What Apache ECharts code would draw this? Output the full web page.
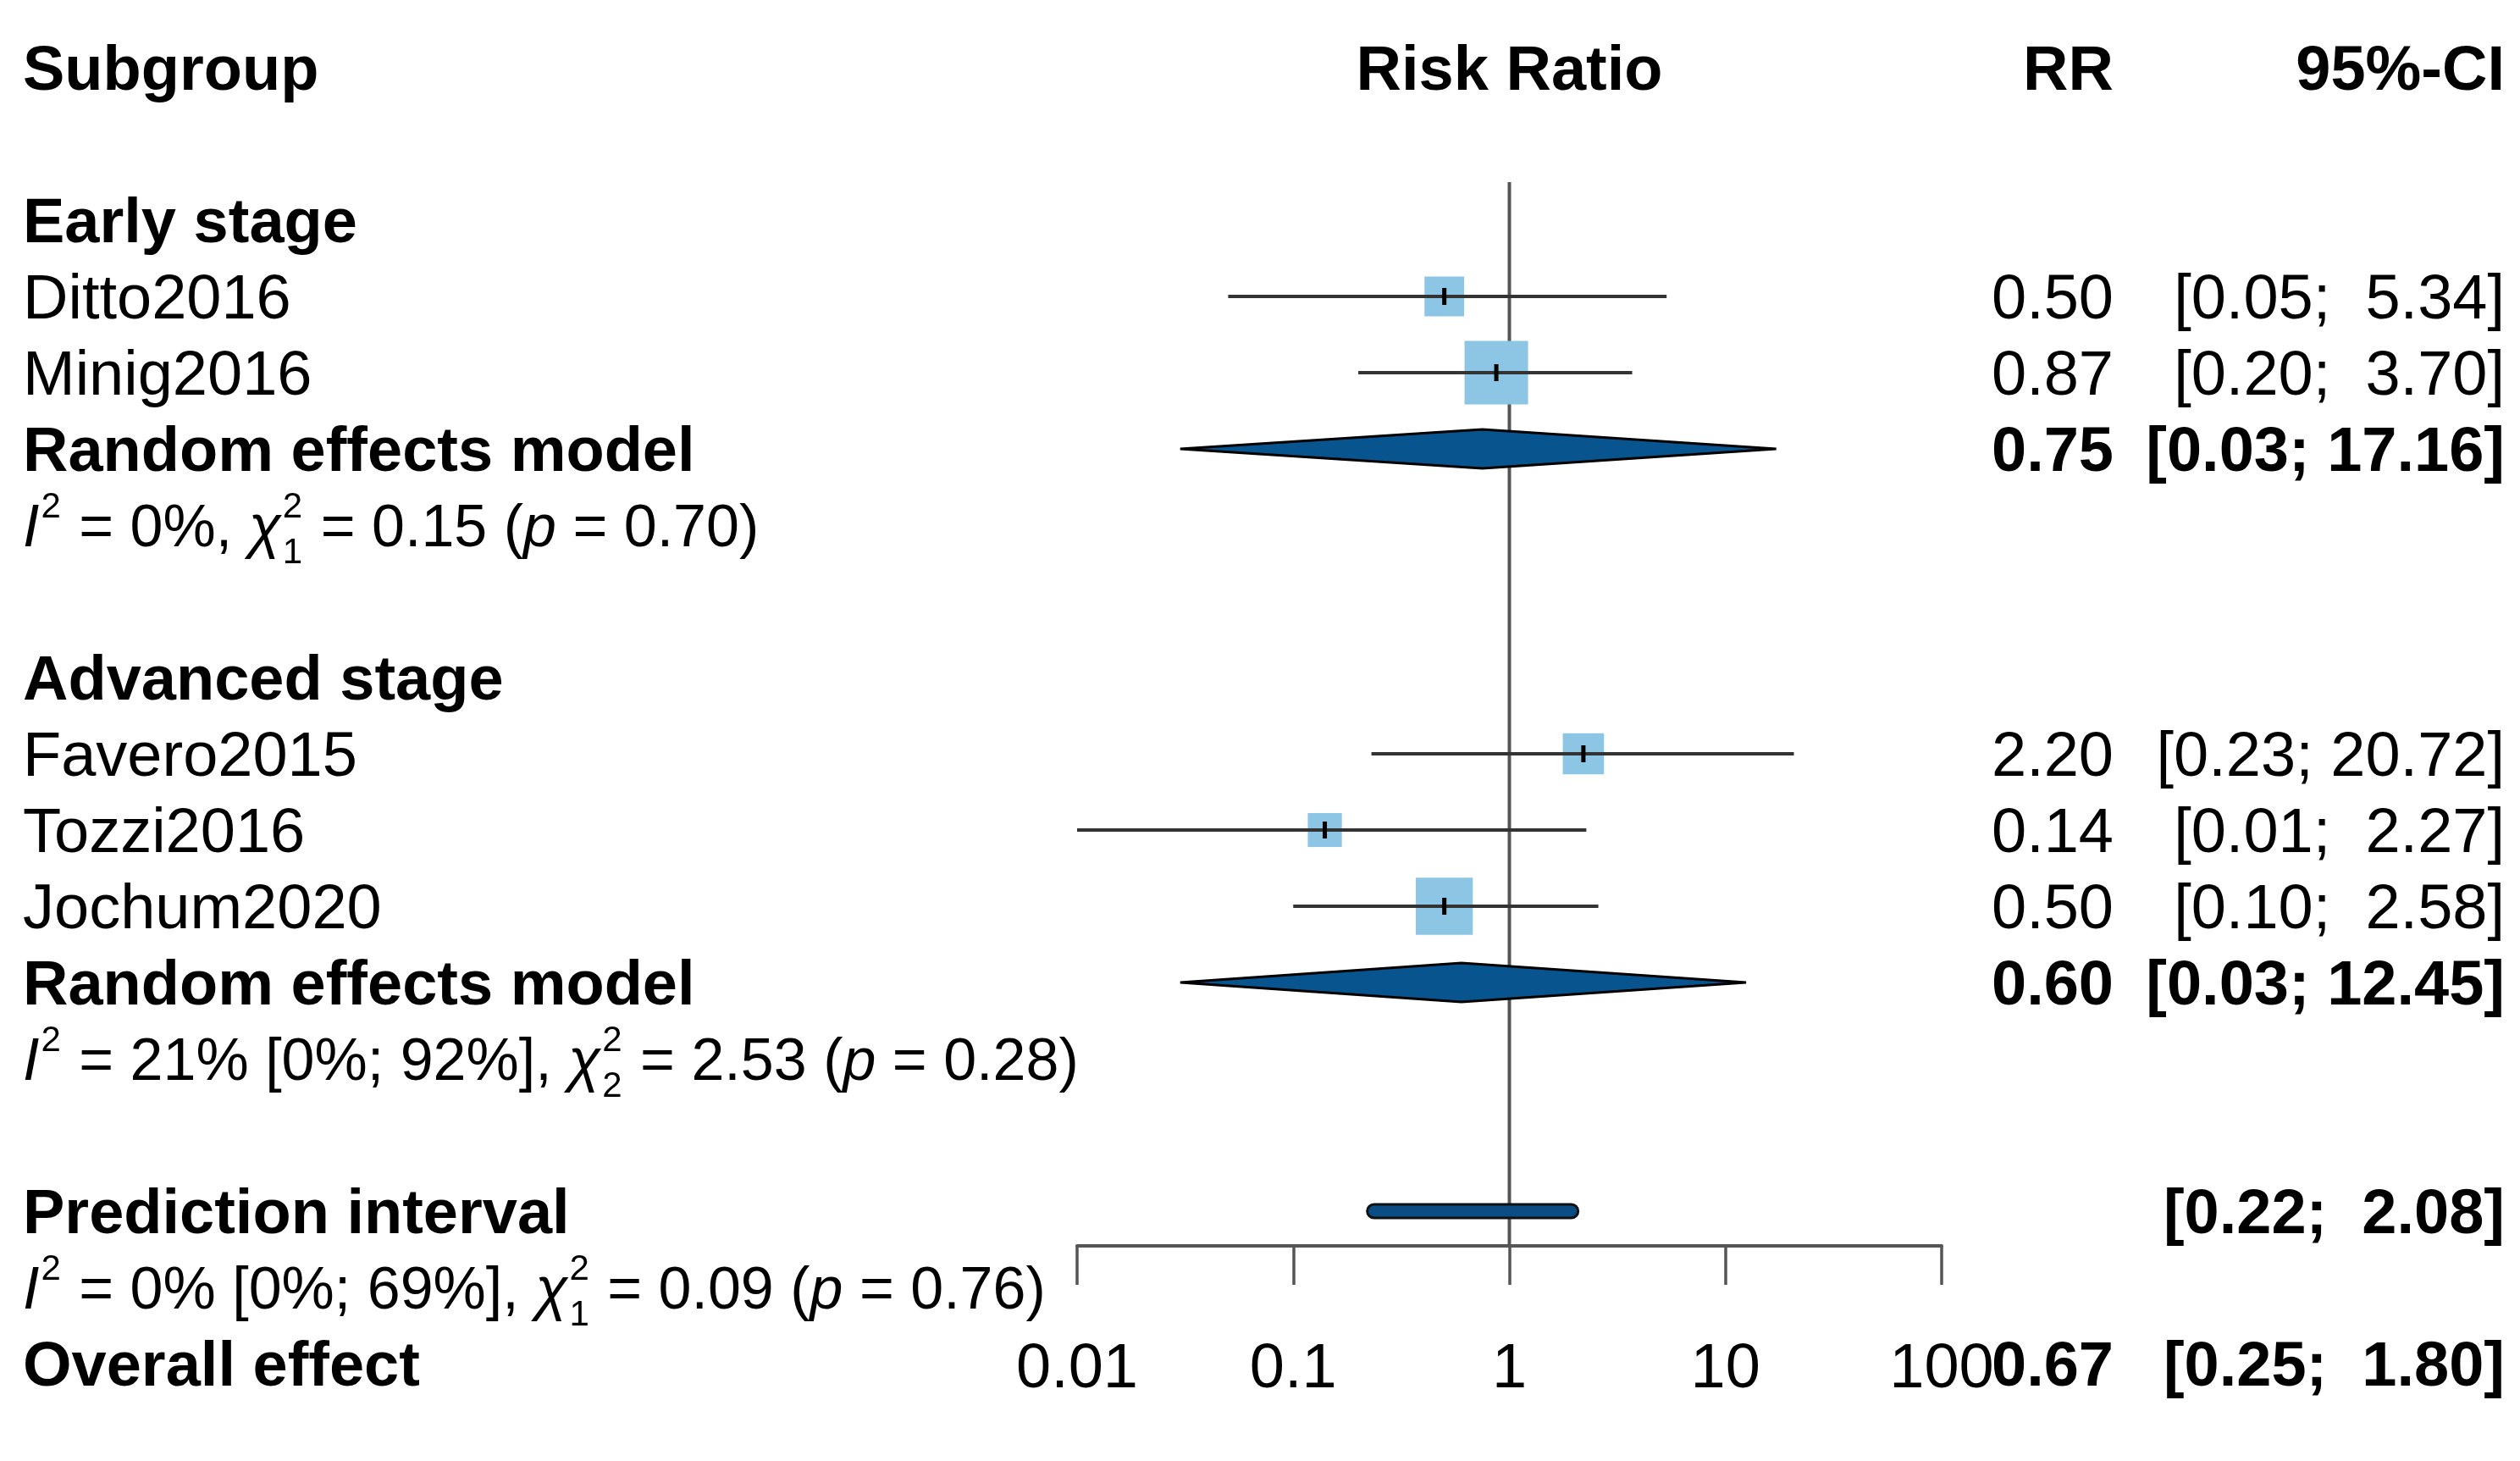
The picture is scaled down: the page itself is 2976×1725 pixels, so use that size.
<!DOCTYPE html>
<html><head><meta charset="utf-8">
<script src="https://cdn.jsdelivr.net/npm/echarts@6/dist/echarts.min.js"></script>
<style>html,body{margin:0;padding:0;background:#fff}#c{width:2976px;height:1725px}</style>
</head><body><div id="c"></div>
<script>
// ---------------- data ----------------
const headers = ['Subgroup', 'Risk Ratio', 'RR', '95%-CI'];
const subgroupNames = ['Early stage', 'Advanced stage'];
const subgroupRows = [2, 8];
const studyNames = ['Ditto2016', 'Minig2016', 'Favero2015', 'Tozzi2016', 'Jochum2020'];
const studyRows = [3, 4, 9, 10, 11];
const studyRR = [0.50, 0.87, 2.20, 0.14, 0.50];
const studyLower = [0.05, 0.20, 0.23, 0.01, 0.10];
const studyUpper = [5.34, 3.70, 20.72, 2.27, 2.58];
const studyWeight = [13.4, 34.4, 14.5, 9.9, 27.7];
const pooledLabel = 'Random effects model';
const pooledRows = [5, 12];
const pooledRR = [0.75, 0.60];
const pooledLower = [0.03, 0.03];
const pooledUpper = [17.16, 12.45];
const hetRows = [6, 13, 16];
const hetI2 = [0, 21, 0];
const hetI2Lower = [null, 0, 0];
const hetI2Upper = [null, 92, 69];
const hetQ = [0.15, 2.53, 0.09];
const hetDf = [1, 2, 1];
const hetP = [0.70, 0.28, 0.76];
const predLabel = 'Prediction interval';
const predRow = 15;
const predLower = [0.22];
const predUpper = [2.08];
const overallLabel = 'Overall effect';
const overallRow = 17;
const overallRR = [0.67];
const overallLower = [0.25];
const overallUpper = [1.80];
const xTicks = [0.01, 0.1, 1, 10, 100];
const refValue = 1;
const rowCount = 17;

// ---------------- style / layout ----------------
const FAMILY = '"Liberation Sans", Arial, Helvetica, sans-serif';
const FS = 74, HET_FS = 70, SMALL = 42;
const TEXT_DY = 6;
const LEFT_X = 27, RR_X = 2496, CI_X = 2958;
const GRID = { left: 1272, right: 683, top: 80, bottom: 115 };
const AXIS_OFFSET = -139;
const BOX_MAX = 75;
const BOX_COLOR = '#8DC5E4';
const CI_COLOR = '#333333';
const DIAMOND_COLOR = '#08548F';
const PRED_COLOR = '#0A4D84';
const REF_COLOR = '#555555';
const TEXT_COLOR = '#000000';
const DIAMOND_HALF = 23;

const fmt2 = v => v.toFixed(2);
const pad = (s, n) => (' '.repeat(Math.max(0, n - s.length)) + s);
const ciStr = (l, u) => '[' + fmt2(l) + '; ' + pad(fmt2(u), 5) + ']';

// ---------------- text rows ----------------
const textItems = [];
textItems.push({ row: 0, col: 'left', text: headers[0], bold: true });
textItems.push({ row: 0, col: 'ref', text: headers[1], bold: true });
textItems.push({ row: 0, col: 'rr', text: headers[2], bold: true });
textItems.push({ row: 0, col: 'ci', text: headers[3], bold: true });
subgroupNames.forEach((n, i) => textItems.push({ row: subgroupRows[i], col: 'left', text: n, bold: true }));
studyNames.forEach((n, i) => {
  textItems.push({ row: studyRows[i], col: 'left', text: n, bold: false });
  textItems.push({ row: studyRows[i], col: 'rr', text: fmt2(studyRR[i]), bold: false });
  textItems.push({ row: studyRows[i], col: 'ci', text: ciStr(studyLower[i], studyUpper[i]), bold: false });
});
pooledRows.forEach((r, i) => {
  textItems.push({ row: r, col: 'left', text: pooledLabel, bold: true });
  textItems.push({ row: r, col: 'rr', text: fmt2(pooledRR[i]), bold: true });
  textItems.push({ row: r, col: 'ci', text: ciStr(pooledLower[i], pooledUpper[i]), bold: true });
});
hetRows.forEach((r, i) => textItems.push({ row: r, col: 'left', het: i }));
textItems.push({ row: predRow, col: 'left', text: predLabel, bold: true });
textItems.push({ row: predRow, col: 'ci', text: ciStr(predLower[0], predUpper[0]), bold: true });
textItems.push({ row: overallRow, col: 'left', text: overallLabel, bold: true });
textItems.push({ row: overallRow, col: 'rr', text: fmt2(overallRR[0]), bold: true });
textItems.push({ row: overallRow, col: 'ci', text: ciStr(overallLower[0], overallUpper[0]), bold: true });

const measureCtx = document.createElement('canvas').getContext('2d');
function measure(text, size, italic, bold) {
  measureCtx.font = (italic ? 'italic ' : '') + (bold ? 'bold ' : '') + size + 'px ' + FAMILY;
  return measureCtx.measureText(text).width;
}
function hetTokens(i) {
  const t = [];
  t.push({ s: 'I', it: true });
  t.push({ sup: '2' });
  let str = ' = ' + hetI2[i] + '%';
  if (hetI2Lower[i] != null) str += ' [' + hetI2Lower[i] + '%; ' + hetI2Upper[i] + '%]';
  str += ', ';
  t.push({ s: str });
  t.push({ s: 'χ', it: true });
  t.push({ sup: '2', sub: String(hetDf[i]) });
  t.push({ s: ' = ' + hetQ[i].toFixed(2) + ' (' });
  t.push({ s: 'p', it: true });
  t.push({ s: ' = ' + hetP[i].toFixed(2) + ')' });
  return t;
}
function txt(x, y, text, size, italic, bold, align) {
  return { type: 'text', x: x, y: y, silent: true, style: {
    text: text, fontSize: size, fontFamily: FAMILY, fontStyle: italic ? 'italic' : 'normal',
    fontWeight: bold ? 'bold' : 'normal', fill: TEXT_COLOR, align: align || 'left', verticalAlign: 'middle' } };
}
function renderText(params, api) {
  const item = textItems[api.value(2)];
  const y = api.coord([refValue, item.row])[1] + TEXT_DY;
  if (item.het != null) {
    const children = [];
    let x = LEFT_X;
    hetTokens(item.het).forEach(tk => {
      if (tk.s != null) {
        children.push(txt(x, y, tk.s, HET_FS, tk.it, false));
        x += measure(tk.s, HET_FS, tk.it, false);
      } else {
        let w = 0;
        if (tk.sup) { children.push(txt(x + 2, y - 27, tk.sup, SMALL, false, false)); w = Math.max(w, measure(tk.sup, SMALL)); }
        if (tk.sub) { children.push(txt(x + 2, y + 27, tk.sub, SMALL, false, false)); w = Math.max(w, measure(tk.sub, SMALL)); }
        x += w + 4;
      }
    });
    return { type: 'group', children: children };
  }
  let x, align;
  if (item.col === 'left') { x = LEFT_X; align = 'left'; }
  else if (item.col === 'ref') { x = api.coord([refValue, item.row])[0]; align = 'center'; }
  else if (item.col === 'rr') { x = RR_X; align = 'right'; }
  else { x = CI_X; align = 'right'; }
  return txt(x, y, item.text, FS, false, item.bold, align);
}

function renderStudy(params, api) {
  const row = api.value(2);
  const lo = api.coord([api.value(0), row]);
  const hi = api.coord([api.value(1), row]);
  const c = api.coord([api.value(3), row]);
  const maxW = Math.max.apply(null, studyWeight);
  const s = BOX_MAX * Math.sqrt(api.value(4) / maxW);
  return { type: 'group', children: [
    { type: 'rect', shape: { x: c[0] - s / 2, y: c[1] - s / 2, width: s, height: s }, style: { fill: BOX_COLOR } },
    { type: 'line', shape: { x1: lo[0], y1: lo[1], x2: hi[0], y2: hi[1] }, style: { stroke: CI_COLOR, lineWidth: 4 } },
    { type: 'line', shape: { x1: c[0], y1: c[1] - 10, x2: c[0], y2: c[1] + 10 }, style: { stroke: '#000', lineWidth: 5 } }
  ] };
}
function renderDiamond(params, api) {
  const row = api.value(2);
  const lo = api.coord([api.value(0), row]);
  const hi = api.coord([api.value(1), row]);
  const c = api.coord([api.value(3), row]);
  return { type: 'polygon', shape: { points: [[lo[0], lo[1]], [c[0], c[1] - DIAMOND_HALF], [hi[0], hi[1]], [c[0], c[1] + DIAMOND_HALF]] },
    style: { fill: DIAMOND_COLOR, stroke: '#000', lineWidth: 3, lineJoin: 'miter' } };
}
function renderPred(params, api) {
  const row = api.value(2);
  const lo = api.coord([api.value(0), row]);
  const hi = api.coord([api.value(1), row]);
  const h = 16;
  return { type: 'rect', shape: { x: lo[0], y: lo[1] - h / 2, width: hi[0] - lo[0], height: h, r: h / 2 },
    style: { fill: PRED_COLOR, stroke: '#111', lineWidth: 3 } };
}
function renderRef(params, api) {
  const top = api.coord([refValue, 1.5]);
  const axisY = api.getHeight() - GRID.bottom + AXIS_OFFSET;
  return { type: 'line', shape: { x1: top[0], y1: top[1], x2: top[0], y2: axisY }, style: { stroke: REF_COLOR, lineWidth: 4 } };
}

const chart = echarts.init(document.getElementById('c'), null, { renderer: 'canvas' });
chart.setOption({
  animation: false,
  backgroundColor: '#ffffff',
  textStyle: { fontFamily: FAMILY },
  grid: { left: GRID.left, right: GRID.right, top: GRID.top, bottom: GRID.bottom, containLabel: false },
  xAxis: {
    type: 'log', logBase: 10, min: xTicks[0], max: xTicks[xTicks.length - 1],
    position: 'bottom', offset: AXIS_OFFSET,
    axisLine: { show: true, onZero: false, lineStyle: { color: REF_COLOR, width: 4 } },
    axisTick: { show: true, inside: false, length: 46, lineStyle: { color: REF_COLOR, width: 3.5 } },
    splitLine: { show: false },
    axisLabel: {
      show: true, margin: 110, fontSize: FS, color: TEXT_COLOR, fontFamily: FAMILY,
      showMinLabel: true, showMaxLabel: true, hideOverlap: false,
      formatter: v => {
        for (const t of xTicks) if (Math.abs(Math.log10(v) - Math.log10(t)) < 1e-6) return String(t);
        return '';
      }
    }
  },
  yAxis: { type: 'value', min: 0, max: rowCount, inverse: true, show: false },
  series: [
    { type: 'custom', renderItem: renderRef, data: [[refValue, 1.5]], encode: { x: 0, y: 1 }, silent: true, z: 1 },
    { type: 'custom', renderItem: renderStudy, silent: true, z: 2,
      data: studyRR.map((v, i) => [studyLower[i], studyUpper[i], studyRows[i], v, studyWeight[i]]),
      encode: { x: [0, 1, 3], y: 2 } },
    { type: 'custom', renderItem: renderDiamond, silent: true, z: 2,
      data: pooledRR.map((v, i) => [pooledLower[i], pooledUpper[i], pooledRows[i], v]),
      encode: { x: [0, 1, 3], y: 2 } },
    { type: 'custom', renderItem: renderPred, silent: true, z: 2,
      data: predLower.map((v, i) => [v, predUpper[i], predRow]),
      encode: { x: [0, 1], y: 2 } },
    { type: 'custom', renderItem: renderText, silent: true, z: 3,
      data: textItems.map((t, i) => [refValue, t.row, i]),
      encode: { x: 0, y: 1 } }
  ]
});
</script>
</body></html>
